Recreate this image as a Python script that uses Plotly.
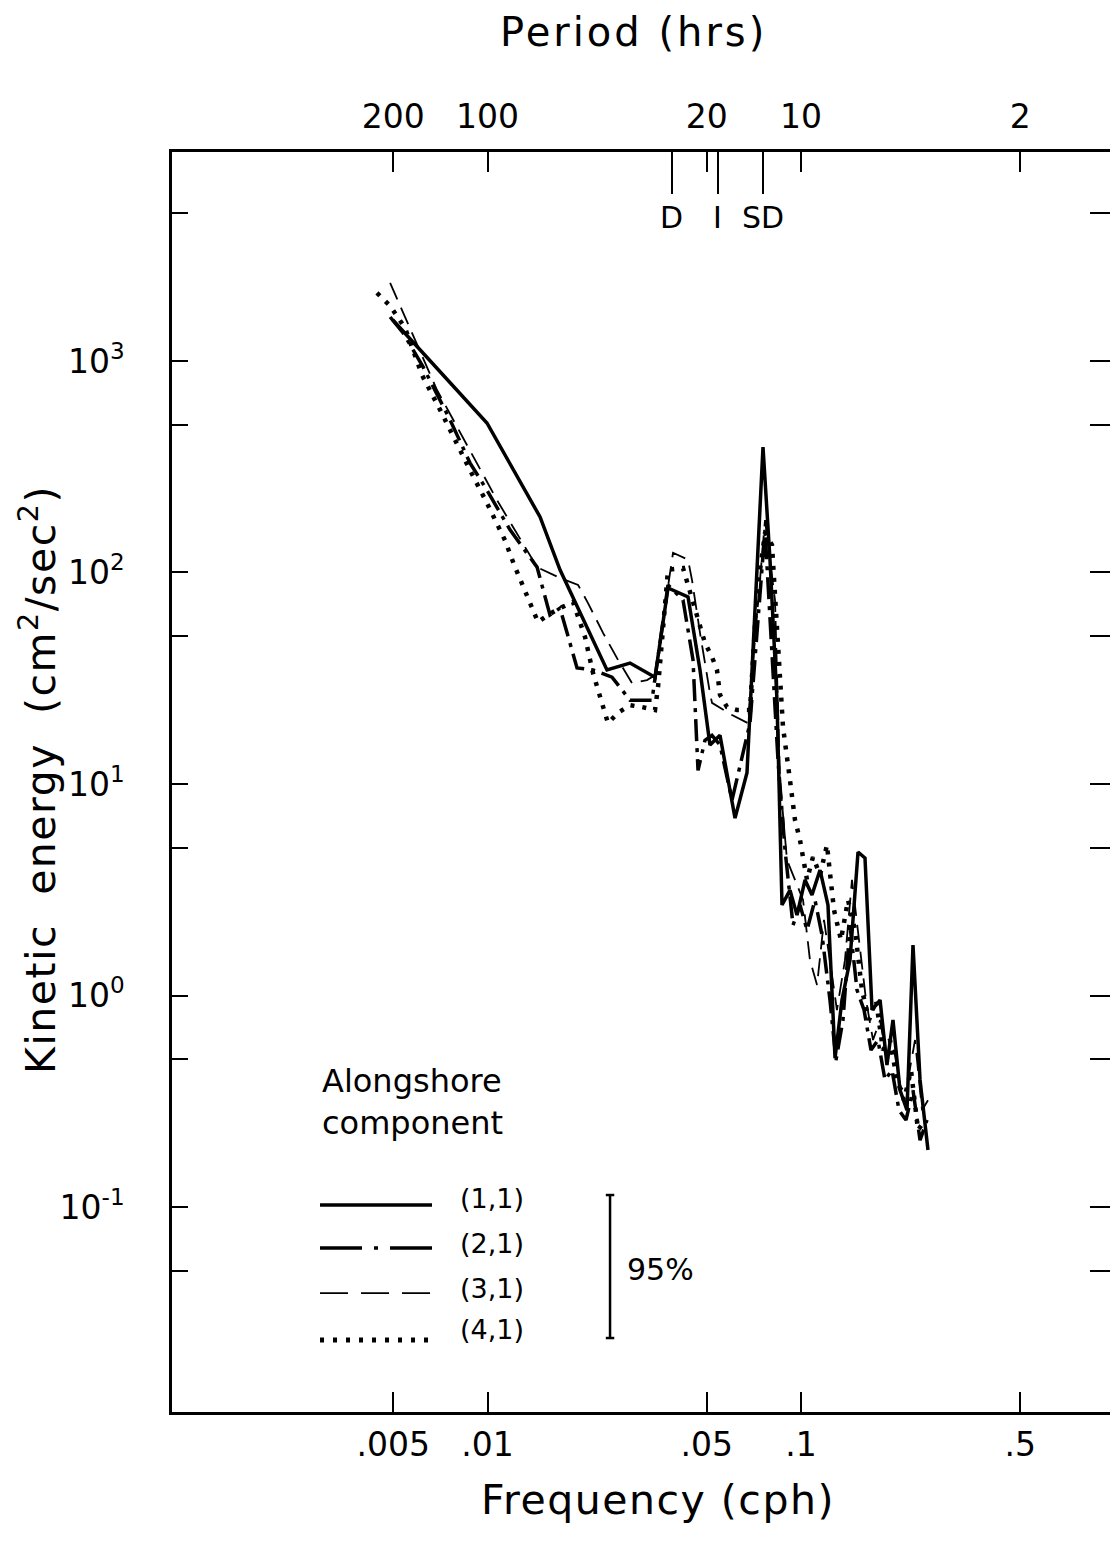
import math
import plotly.graph_objects as go

# ---------------- data ----------------
# (1,1) solid
f11 = [0.00499, 0.00996, 0.01471, 0.01703, 0.02405, 0.02848, 0.03422, 0.03765, 0.04361, 0.04762,
       0.05124, 0.05515, 0.06159, 0.06725, 0.07564, 0.07962, 0.08382, 0.08697, 0.09224, 0.09710,
       0.1030, 0.1084, 0.1150, 0.1219, 0.1284, 0.1351, 0.1433, 0.1520, 0.1600, 0.1685,
       0.1787, 0.1880, 0.1965, 0.2069, 0.2178, 0.2276, 0.2397, 0.2541]
e11 = [1563, 509, 183, 103, 34.6, 37.3, 32.0, 84.5, 76.6, 34.6,
       15.3, 17.0, 6.90, 11.3, 392, 115, 24.9, 2.68, 3.15, 2.40,
       3.52, 2.99, 3.92, 2.68, 0.506, 0.952, 1.47, 4.77, 4.47, 0.854,
       0.952, 0.469, 0.766, 0.357, 0.287, 1.73, 0.399, 0.186]

# (2,1) dash-dot
f21 = [0.00489, 0.00538, 0.00623, 0.00760, 0.00879, 0.00996, 0.01180, 0.01439, 0.01582, 0.01703,
       0.01930, 0.02170, 0.02495, 0.02848, 0.03347, 0.03765, 0.04204, 0.04524, 0.04693, 0.04940,
       0.05201, 0.05515, 0.06025, 0.06875, 0.07676, 0.08444, 0.08892, 0.09429, 0.09927, 0.1045,
       0.1108, 0.1167, 0.1237, 0.1293, 0.1361, 0.1433, 0.1509, 0.1589, 0.1672, 0.1760,
       0.1853, 0.1951, 0.2054, 0.2162, 0.2276, 0.2397, 0.2523]
e21 = [1614, 1356, 937, 526, 330, 245, 159, 106, 63.0, 67.9,
       35.4, 34.6, 32.0, 24.9, 24.9, 87.3, 74.1, 38.6, 11.6, 16.1,
       17.0, 15.3, 8.40, 19.4, 159, 13.0, 4.88, 2.15, 2.68, 2.04,
       2.83, 1.93, 0.952, 0.495, 0.766, 2.15, 1.06, 0.854, 0.552, 0.616,
       0.399, 0.444, 0.287, 0.258, 0.357, 0.207, 0.258]

# (3,1) dashed
f31 = [0.00489, 0.00690, 0.01072, 0.01439, 0.01703, 0.01945, 0.02092, 0.02336, 0.02608, 0.02890,
       0.03227, 0.03422, 0.03906, 0.04361, 0.04491, 0.04762, 0.05124, 0.05201, 0.06025, 0.06774,
       0.07676, 0.08261, 0.08570, 0.09022, 0.09569, 0.1015, 0.1068, 0.1125, 0.1184, 0.1237,
       0.1302, 0.1381, 0.1454, 0.1531, 0.1612, 0.1697, 0.1787, 0.1880, 0.1980, 0.2084,
       0.2194, 0.2310, 0.2432, 0.2541]
e31 = [2338, 729, 220, 106, 94.2, 87.3, 71.7, 51.8, 38.6, 30.0,
       31.0, 32.7, 124, 115, 92.1, 51.8, 26.9, 24.2, 21.2, 19.4,
       177, 74.1, 10.4, 4.37, 3.52, 2.83, 1.47, 1.12, 2.28, 1.47,
       0.854, 1.47, 3.52, 1.83, 0.952, 0.616, 0.766, 0.495, 0.552, 0.357,
       0.399, 0.616, 0.287, 0.320]

# (4,1) dotted
f41 = [0.00444, 0.00489, 0.00546, 0.00618, 0.00706, 0.00771, 0.00879, 0.00996, 0.01137, 0.01215,
       0.01347, 0.01449, 0.01560, 0.01703, 0.01874, 0.02047, 0.02170, 0.02423, 0.02608, 0.02848,
       0.03110, 0.03422, 0.03499, 0.03765, 0.04204, 0.04426, 0.04940, 0.05201, 0.05395, 0.05515,
       0.05808, 0.06251, 0.06875, 0.07237, 0.07676, 0.08080, 0.08444, 0.08761, 0.09224, 0.09569,
       0.09927, 0.1045, 0.1092, 0.1150, 0.1210, 0.1274, 0.1341, 0.1412, 0.1487, 0.1565,
       0.1648, 0.1735, 0.1826, 0.1922, 0.2024, 0.2131, 0.2243, 0.2362, 0.2486]
e41 = [2097, 1820, 1432, 858, 587, 447, 305, 213, 142, 109,
       74.1, 58.3, 63.0, 67.9, 72.5, 49.5, 33.5, 19.4, 21.7, 23.6,
       23.1, 22.4, 28.8, 103, 105, 80.0, 46.4, 39.9, 34.6, 26.4,
       23.1, 22.4, 22.4, 80.0, 154, 135, 43.0, 18.6, 10.4, 6.76,
       5.43, 3.52, 4.52, 3.71, 5.15, 2.54, 1.83, 2.83, 2.04, 1.06,
       0.766, 0.952, 0.552, 0.616, 0.399, 0.320, 0.444, 0.231, 0.258]

series_names = ["(1,1)", "(2,1)", "(3,1)", "(4,1)"]

# axis ticks
freq_ticks = [0.005, 0.01, 0.05, 0.1, 0.5]
freq_text = [".005", ".01", ".05", ".1", ".5"]
period_ticks = [200, 100, 20, 10, 2]
period_text = ["200", "100", "20", "10", "2"]
marker_periods = [25.8, 18.4, 13.2]
marker_labels = ["D", "I", "SD"]
ke_major = [0.1, 1, 10, 100, 1000]
ke_major_text = ["10<sup>-1</sup>", "10<sup>0</sup>", "10<sup>1</sup>", "10<sup>2</sup>", "10<sup>3</sup>"]
ke_minor = [0.05, 0.5, 5, 50, 500, 5000]

# ---------------- styling ----------------
FONT = "DejaVu Sans"
INK = "black"
XR = [-3.0064, -0.0144]
YR = [-1.969, 3.988]

styles = [
    dict(width=3.5, dash="solid"),
    dict(width=3.5, dash="22px,7px,4px,7px"),
    dict(width=1.8, dash="18px,9px"),
    dict(width=4.5, dash="4px,8px"),
]
legend_dash = ["solid", "42px,12px,4px,12px", "28px,13px", "4px,9px"]

fig = go.Figure()
data = [(f11, e11, "x", "y"), (f21, e21, "x", "y2"), (f31, e31, "x3", "y"), (f41, e41, "x2", "y")]
for (fx, ey, xa, ya), st, nm in zip(data, styles, series_names):
    fig.add_trace(go.Scatter(x=fx, y=ey, mode="lines", name=nm, xaxis=xa, yaxis=ya,
                             line=dict(color=INK, width=st["width"], dash=st["dash"]),
                             showlegend=False, hoverinfo="skip"))

axis_common = dict(type="log", showgrid=False, zeroline=False, color=INK,
                   ticks="inside", tickcolor=INK, tickwidth=2)

fig.update_layout(
    width=1110, height=1557,
    margin=dict(l=172, r=0, t=152, b=145),
    paper_bgcolor="white", plot_bgcolor="white",
    font=dict(family=FONT, color=INK, size=30),
    xaxis=dict(**axis_common, range=XR, tickvals=freq_ticks, ticktext=freq_text,
               ticklen=20, showline=True, linewidth=2.5, linecolor=INK,
               tickfont=dict(size=33), ticklabelstandoff=2, anchor="y"),
    xaxis2=dict(**axis_common, range=XR, overlaying="x", side="top", anchor="y",
                tickvals=[1.0 / p for p in period_ticks], ticktext=period_text,
                ticklen=20, showline=True, linewidth=3, linecolor=INK,
                tickfont=dict(size=33), ticklabelstandoff=8),
    xaxis3=dict(**axis_common, range=XR, overlaying="x", side="top", anchor="y",
                tickvals=[1.0 / p for p in marker_periods], ticklen=42,
                showticklabels=False, showline=False),
    yaxis=dict(**axis_common, range=YR, tickvals=ke_major, ticktext=ke_major_text,
               ticklen=16, showline=True, linewidth=2.5, linecolor=INK,
               minor=dict(tickvals=ke_minor, ticks="inside", ticklen=16, tickwidth=2,
                          tickcolor=INK, showgrid=False),
               tickfont=dict(size=33), ticklabelstandoff=38, anchor="x"),
    yaxis2=dict(**axis_common, range=YR, overlaying="y", side="right", anchor="x",
                tickvals=ke_major, ticklen=20, showticklabels=False, showline=False,
                minor=dict(tickvals=ke_minor, ticks="inside", ticklen=20, tickwidth=2,
                           tickcolor=INK, showgrid=False)),
)

ann = []
# axis titles
ann.append(dict(text='<span style="letter-spacing:3px">Period (hrs)</span>', x=0.4925, y=1.0952,
                xref="paper", yref="paper", showarrow=False, font=dict(size=40),
                xanchor="center", yanchor="middle"))
ann.append(dict(text='<span style="letter-spacing:1.5px">Frequency (cph)</span>', x=0.5181, y=-0.0698,
                xref="paper", yref="paper", showarrow=False, font=dict(size=41),
                xanchor="center", yanchor="middle"))
ann.append(dict(text='<span style="letter-spacing:1.5px">Kinetic  energy  (cm<sup>2</sup>/sec<sup>2</sup>)</span>',
                x=-0.1429, y=0.5024, xref="paper", yref="paper", textangle=-90, showarrow=False,
                font=dict(size=41), xanchor="center", yanchor="middle"))
# D / I / SD labels
for p, lab in zip(marker_periods, marker_labels):
    ann.append(dict(text=lab, x=math.log10(1.0 / p), y=0.9484, xref="x", yref="paper",
                    showarrow=False, font=dict(size=30), xanchor="center", yanchor="middle"))

# legend block (paper coordinates)
ann.append(dict(text="Alongshore<br>component", x=0.1578, y=0.2790, xref="paper", yref="paper",
                showarrow=False, align="left", xanchor="left", yanchor="top", font=dict(size=32)))
leg_y = [0.1643, 0.1302, 0.0944, 0.0571]
lab_y = [0.1698, 0.1341, 0.0984, 0.0651]
shapes = []
for i, nm in enumerate(series_names):
    shapes.append(dict(type="line", xref="paper", yref="paper", x0=0.1578, x1=0.2772,
                       y0=leg_y[i], y1=leg_y[i],
                       line=dict(color=INK, width=styles[i]["width"] if i != 3 else 5,
                                 dash=legend_dash[i])))
    ann.append(dict(text=nm, x=0.3049, y=lab_y[i], xref="paper", yref="paper", showarrow=False,
                    xanchor="left", yanchor="middle", font=dict(size=27)))

# 95% confidence bar
bx, by0, by1, cap = 0.4670, 0.0587, 0.1722, 0.0045
shapes.append(dict(type="line", xref="paper", yref="paper", x0=bx, x1=bx, y0=by0, y1=by1,
                   line=dict(color=INK, width=2.5)))
for yy in (by0, by1):
    shapes.append(dict(type="line", xref="paper", yref="paper", x0=bx - cap, x1=bx + cap,
                       y0=yy, y1=yy, line=dict(color=INK, width=2.5)))
ann.append(dict(text="95%", x=0.4829, y=0.1127, xref="paper", yref="paper", showarrow=False,
                xanchor="left", yanchor="middle", font=dict(size=30)))

fig.update_layout(annotations=ann, shapes=shapes)
fig.write_html("out.html")
